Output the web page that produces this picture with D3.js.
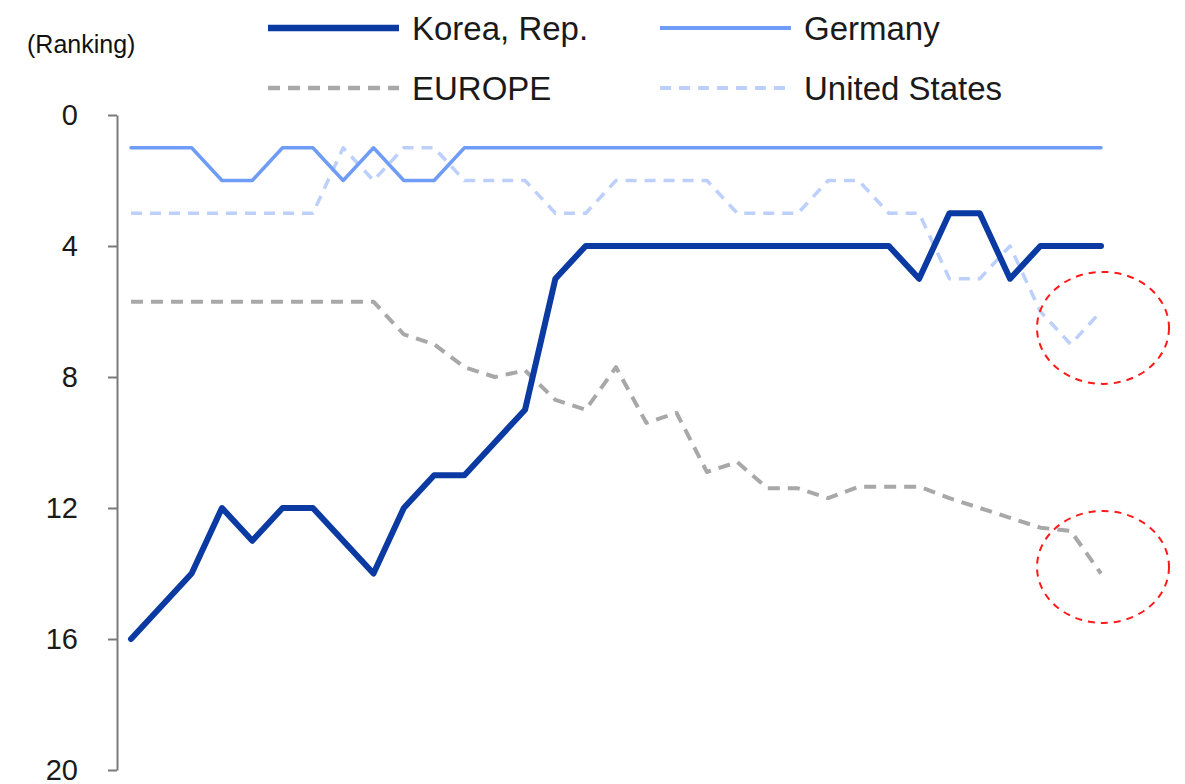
<!DOCTYPE html>
<html>
<head>
<meta charset="utf-8">
<script src="https://cdn.jsdelivr.net/npm/d3@7"></script>
<style>
  body { margin: 0; background: #fff; }
  svg { display: block; font-family: "Liberation Sans", Arial, sans-serif; }
</style>
</head>
<body>
<script>
var width = 1185,
    height = 784

// 33 periods, no labels shown on the x axis
var periods = d3.range(33)

var korea   = [16, 15, 14, 12, 13, 12, 12, 13, 14, 12, 11, 11, 10, 9, 5, 4, 4, 4, 4, 4, 4, 4, 4, 4, 4, 4, 5, 3, 3, 5, 4, 4, 4]
var germany = [1, 1, 1, 2, 2, 1, 1, 2, 1, 2, 2, 1, 1, 1, 1, 1, 1, 1, 1, 1, 1, 1, 1, 1, 1, 1, 1, 1, 1, 1, 1, 1, 1]
var europe  = [5.7, 5.7, 5.7, 5.7, 5.7, 5.7, 5.7, 5.7, 5.7, 6.7, 7.0, 7.7, 8.0, 7.8, 8.7, 9.0, 7.7, 9.4, 9.1, 10.9, 10.6, 11.4, 11.4, 11.7, 11.35, 11.35, 11.35, 11.7, 12.0, 12.3, 12.6, 12.7, 14.0]
var usa     = [3, 3, 3, 3, 3, 3, 3, 1, 2, 1, 1, 2, 2, 2, 3, 3, 2, 2, 2, 2, 3, 3, 3, 2, 2, 3, 3, 5, 5, 4, 6, 7, 6]

var yTicks = [0, 4, 8, 12, 16, 20]

var series = [
  { name: "EUROPE",        values: europe,  color: "#a8a8a8", w: 4,   dash: "12,8" },
  { name: "United States", values: usa,     color: "#bcd0fb", w: 3.5, dash: "11,8" },
  { name: "Germany",       values: germany, color: "#6f9cf6", w: 3.5, dash: null },
  { name: "Korea, Rep.",   values: korea,   color: "#0a3aa2", w: 6,   dash: null }
]

var legendOrder = ["Korea, Rep.", "Germany", "EUROPE", "United States"]

var svg = d3.select("body").append("svg")
    .attr("width", width)
    .attr("height", height)

var x = d3.scaleLinear()
    .domain([0, periods.length - 1])
    .range([131, 1101])

var y = d3.scaleLinear()
    .domain([0, 20])
    .range([115, 770])

// y axis
var yAxis = svg.append("g")
    .attr("transform", "translate(117,0)")
    .call(d3.axisLeft(y).tickValues(yTicks).tickSize(9).tickSizeOuter(0).tickPadding(30))

yAxis.select(".domain").attr("stroke", "#7a7a7a").attr("stroke-width", 2)
yAxis.selectAll(".tick line").attr("stroke", "#7a7a7a").attr("stroke-width", 2)
yAxis.selectAll(".tick text")
    .attr("fill", "#1a1a1a")
    .style("font-size", "29px")
    .style("font-family", "'Liberation Sans', Arial, sans-serif")

svg.append("text")
    .attr("x", 27)
    .attr("y", 53)
    .attr("fill", "#111")
    .style("font-size", "25px")
    .text("(Ranking)")

// lines
var line = d3.line()
    .x((d, i) => x(periods[i]))
    .y(d => y(d))

svg.selectAll(".series")
    .data(series)
    .enter()
    .append("path")
    .attr("class", "series")
    .attr("d", d => line(d.values))
    .attr("fill", "none")
    .attr("stroke", d => d.color)
    .attr("stroke-width", d => d.w)
    .attr("stroke-dasharray", d => d.dash)
    .attr("stroke-linejoin", "round")
    .attr("stroke-linecap", d => d.dash ? "butt" : "round")

// legend
var legend = svg.selectAll(".legend")
    .data(legendOrder.map(n => series.find(s => s.name === n)))
    .enter()
    .append("g")
    .attr("class", "legend")
    .attr("transform", (d, i) => "translate(" + (i % 2 ? 660 : 268) + "," + (i < 2 ? 28 : 88) + ")")

legend.append("line")
    .attr("x1", 0)
    .attr("x2", 131)
    .attr("stroke", d => d.color)
    .attr("stroke-width", d => d.w + 0.5)
    .attr("stroke-dasharray", d => d.dash)

legend.append("text")
    .attr("x", 144)
    .attr("dy", "0.36em")
    .attr("fill", "#1a1a1a")
    .style("font-size", "33px")
    .text(d => d.name)

// red dashed highlight circles
var marks = [{ i: 32, v: 6.5 }, { i: 32, v: 13.8 }]
svg.selectAll(".mark")
    .data(marks)
    .enter()
    .append("ellipse")
    .attr("class", "mark")
    .attr("cx", d => x(d.i) + 2)
    .attr("cy", d => y(d.v))
    .attr("rx", 66)
    .attr("ry", 56)
    .attr("fill", "none")
    .attr("stroke", "#ff1a1a")
    .attr("stroke-width", 2)
    .attr("stroke-dasharray", "7,6")
</script>
</body>
</html>
